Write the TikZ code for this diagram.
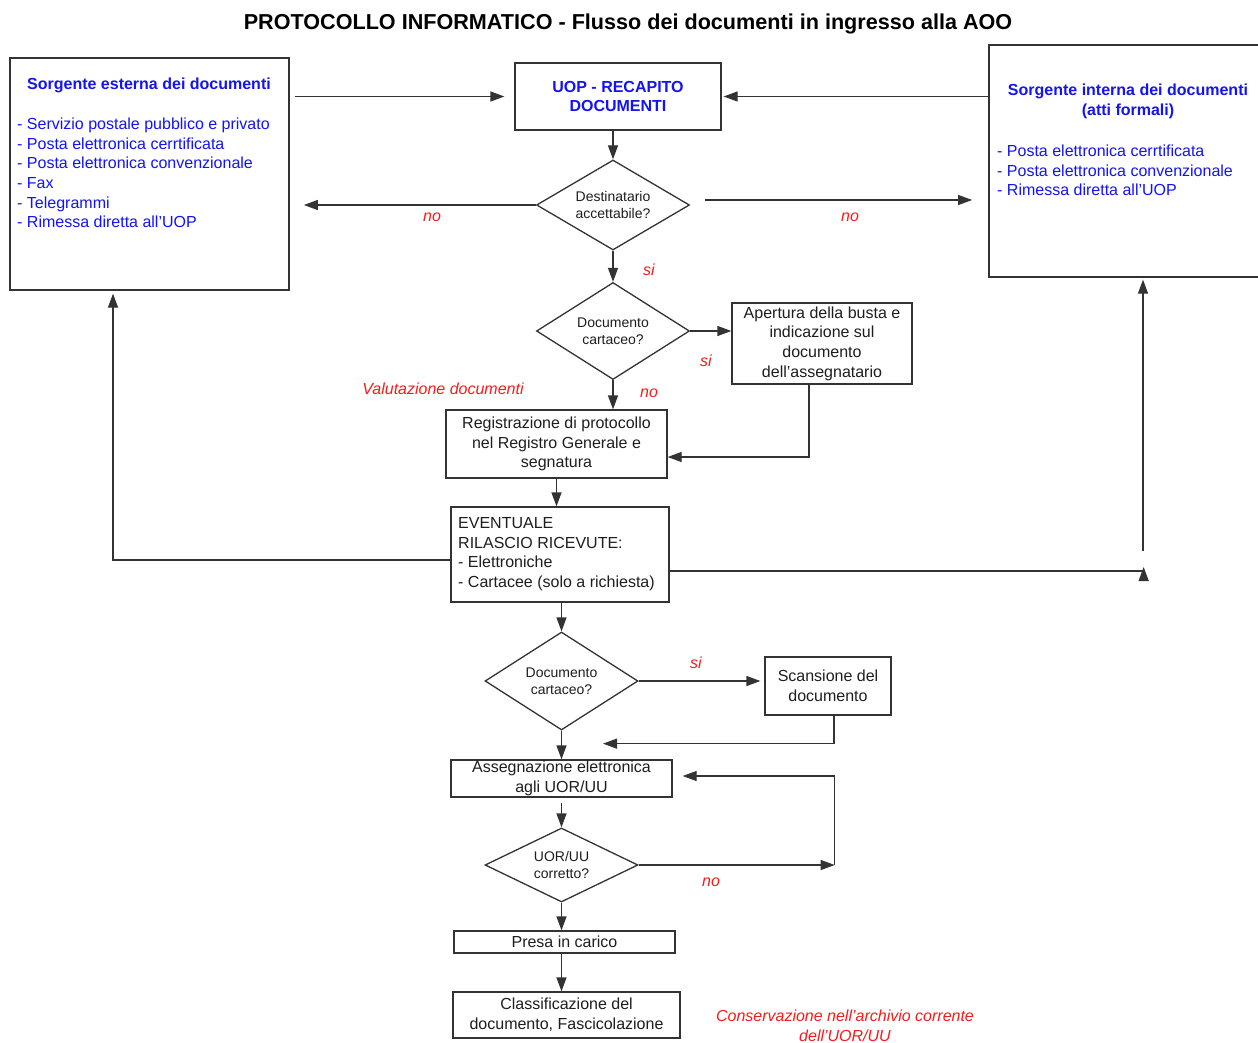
\documentclass[tikz,border=0pt]{standalone}
\usepackage{fontspec}
\setmainfont{Liberation Sans}
\usetikzlibrary{shapes.geometric,arrows.meta}
\definecolor{ln}{HTML}{333333}
\definecolor{bl}{HTML}{1414F0}
\definecolor{rd}{HTML}{F01E1E}
\definecolor{tx}{HTML}{1E1E1E}
\begin{document}
\begin{tikzpicture}[x=1pt,y=-1pt,
 box/.style={draw=ln,line width=1.3pt,rectangle,inner sep=0pt,align=center,text=tx,font=\fontsize{16}{19.6}\selectfont},
 dia/.style={draw=ln,line width=1.3pt,diamond,inner sep=0pt,align=center,text=tx,font=\fontsize{14}{17}\selectfont},
 arr/.style={draw=ln,line width=1.3pt,-{Triangle[length=14pt,width=10pt]}},
 lin/.style={draw=ln,line width=1.3pt},
 lab/.style={text=rd,font=\fontsize{16}{19.6}\selectfont\itshape,inner sep=0pt,align=center},
 bhead/.style={text=bl,font=\fontsize{16}{19.6}\selectfont\bfseries,align=center,inner sep=0pt},
 bitem/.style={text=bl,font=\fontsize{16}{19.6}\selectfont,align=left,inner sep=0pt,anchor=west},
 ptext/.style={text=tx,font=\fontsize{16}{19.6}\selectfont,align=left,inner sep=0pt,anchor=west}]
\useasboundingbox (0,0) rectangle (1258,1043);
\fill[white] (0,0) rectangle (1258,1043);

\node[font=\fontsize{21.6}{24}\selectfont\bfseries,text=black,inner sep=0pt] (title) at (628,24) {PROTOCOLLO INFORMATICO - Flusso dei documenti in ingresso alla AOO};

% source boxes
\node[box,minimum width=279pt,minimum height=232pt] (srcext) at (149.5,174) {};
\node[bhead] (srcexth) at (149,85) {Sorgente esterna dei documenti};
\node[bitem] (srcexti) at (17,173) {- Servizio postale pubblico e privato\\- Posta elettronica cerrtificata\\- Posta elettronica convenzionale\\- Fax\\- Telegrammi\\- Rimessa diretta all'UOP};

\node[box,minimum width=273pt,minimum height=232pt] (srcint) at (1125.5,161) {};
\node[bhead] (srcinth) at (1128,101.5) {Sorgente interna dei documenti\\(atti formali)};
\node[bitem] (srcinti) at (997,170.5) {- Posta elettronica cerrtificata\\- Posta elettronica convenzionale\\- Rimessa diretta all'UOP};

\node[box,minimum width=206pt,minimum height=67pt,text=bl,font=\fontsize{16}{19.6}\selectfont\bfseries] (uop) at (618,96.5) {UOP - RECAPITO\\DOCUMENTI};

% decisions and steps
\node[dia,aspect=1.7,minimum width=153pt,minimum height=90pt] (d1) at (613,205) {Destinatario\\accettabile?};
\node[dia,aspect=1.58,minimum width=153pt,minimum height=97pt] (d2) at (613,331) {Documento\\cartaceo?};
\node[box,minimum width=180pt,minimum height=81pt] (apert) at (822,343.5) {Apertura della busta e\\indicazione sul\\documento\\dell'assegnatario};
\node[box,minimum width=221pt,minimum height=68pt] (reg) at (556.5,444) {Registrazione di protocollo\\nel Registro Generale e\\segnatura};
\node[box,minimum width=218pt,minimum height=95pt] (eventual) at (560,554.5) {};
\node[ptext] (evtext) at (458,554) {EVENTUALE\\RILASCIO RICEVUTE:\\- Elettroniche\\- Cartacee (solo a richiesta)};
\node[dia,aspect=1.56,minimum width=153pt,minimum height=98pt] (d3) at (561.5,681) {Documento\\cartaceo?};
\node[box,minimum width=126pt,minimum height=58pt] (scan) at (828,686) {Scansione del\\documento};
\node[box,minimum width=221pt,minimum height=37pt] (asse) at (561.5,778.5) {Assegnazione elettronica\\agli UOR/UU};
\node[dia,aspect=2.07,minimum width=153pt,minimum height=74pt] (d4) at (561.5,865) {UOR/UU\\corretto?};
\node[box,minimum width=221pt,minimum height=22pt] (presa) at (564.5,942) {Presa in carico};
\node[box,minimum width=227pt,minimum height=46pt] (classif) at (566.5,1015) {Classificazione del\\documento, Fascicolazione};

% connectors
\draw[arr] (srcext.east |- uop.west) ++(5,0) -- ([xshift=-10pt]uop.west);
\draw[arr] (srcint.west |- uop.east) -- ([xshift=2pt]uop.east);
\draw[arr] (d1.north |- uop.south) -- (d1.north);
\draw[arr] (d1.west) -- ++(-232,0);
\draw[arr] (d1.east) ++(15,-5) -- ++(267,0);
\draw[arr] (d1.south) -- (d2.north);
\draw[arr] (d2.east) -- (d2.east -| apert.west);
\draw[arr] (d2.south) -- (d2.south |- reg.north);
\draw[arr] ([xshift=-13pt]apert.south) |- ([yshift=-13pt]reg.east);
\draw[arr] (reg.south) -- (reg.south |- eventual.north);
\draw[arr] ([yshift=-5.5pt]eventual.west) -| ([xshift=-36.5pt,yshift=-3pt]srcext.south);
\draw[arr] ([yshift=-16.5pt]eventual.east) -- ++(474,0) -- ++(0,-4);
\draw[arr] (srcint.south) ++(17.5,273) -- ([xshift=17.5pt,yshift=-2pt]srcint.south);
\draw[arr] (d3.north |- eventual.south) -- (d3.north);
\draw[arr] (d3.east) -- ([xshift=-4pt]d3.east -| scan.west);
\draw[arr] ([xshift=6pt]scan.south) |- ([xshift=41.5pt,yshift=-13pt]d3.south);
\draw[arr] (d3.south) -- (asse.north);
\draw[arr] ([yshift=-5pt]asse.south) -- (d4.north);
\draw[arr] (d4.east) -- ++(196,0);
\draw[arr] ([xshift=196pt]d4.east) |- ([xshift=10pt,yshift=2.5pt]asse.east);
\draw[arr] (d4.south) -- (d4.south |- presa.north);
\draw[arr] (d4.south |- presa.south) -- (d4.south |- classif.north);

% labels
\node[lab] (no1) at (432,217) {no};
\node[lab] (no2) at (850,217) {no};
\node[lab] (si1) at (649,270) {si};
\node[lab] (si2) at (706,361) {si};
\node[lab] (no3) at (649,393) {no};
\node[lab] (valut) at (443,389) {Valutazione documenti};
\node[lab] (si3) at (696,663) {si};
\node[lab] (no4) at (711,882) {no};
\node[lab] (conserv) at (845,1026) {Conservazione nell’archivio corrente\\dell’UOR/UU};
\end{tikzpicture}
\end{document}
